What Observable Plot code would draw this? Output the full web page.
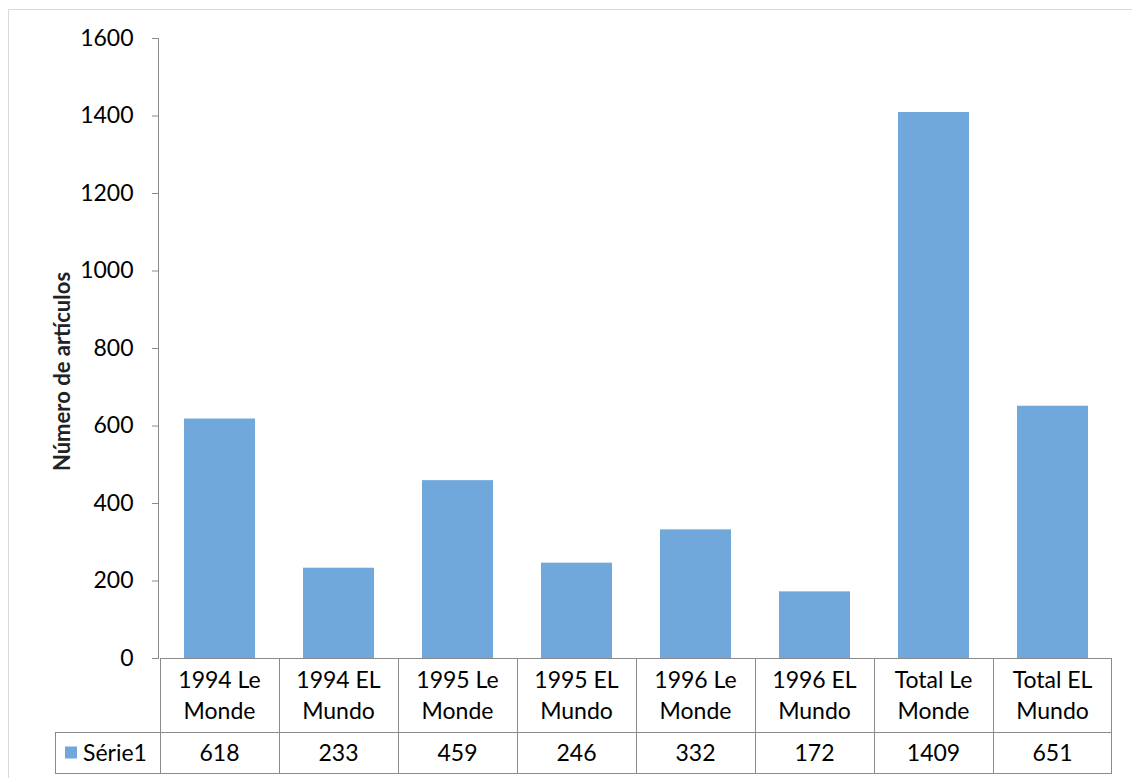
<!DOCTYPE html>
<html>
<head>
<meta charset="utf-8">
<script src="https://cdn.jsdelivr.net/npm/d3@7"></script>
<script src="https://cdn.jsdelivr.net/npm/@observablehq/plot@0.6"></script>
<style>
  html, body { margin: 0; padding: 0; background: #fff; }
  #chart { position: relative; width: 1132px; height: 778px; overflow: hidden; }
</style>
</head>
<body>
<div id="chart"></div>
<script>
const categories = ["1994 Le Monde", "1994 EL Mundo", "1995 Le Monde", "1995 EL Mundo", "1996 Le Monde", "1996 EL Mundo", "Total Le Monde", "Total EL Mundo"];
const headerLines = [["1994 Le", "Monde"], ["1994 EL", "Mundo"], ["1995 Le", "Monde"], ["1995 EL", "Mundo"], ["1996 Le", "Monde"], ["1996 EL", "Mundo"], ["Total Le", "Monde"], ["Total EL", "Mundo"]];
const values = [618, 233, 459, 246, 332, 172, 1409, 651];
const yTicks = [0, 200, 400, 600, 800, 1000, 1200, 1400, 1600];
const seriesName = "Série1";
const yLabel = "Número de artículos";

const barColor = "#70a8dc";
const gridColor = "#8a8a8a";
const data = categories.map((c, i) => ({cat: c, value: values[i], lines: headerLines[i]}));

const chart = Plot.plot({
  width: 1132,
  height: 778,
  marginLeft: 158,
  marginRight: 18,
  marginTop: 38,
  marginBottom: 120,
  style: {fontFamily: "Lato, 'Open Sans', sans-serif", fontSize: "23px", color: "#000", background: "#fff"},
  x: {domain: categories, padding: 0, axis: null},
  y: {domain: [0, 1600], ticks: yTicks},
  marks: [
    Plot.barY(data, {x: "cat", y: "value", fill: barColor, insetLeft: 24, insetRight: 24}),
    Plot.frame({anchor: "left", stroke: gridColor}),
    Plot.axisY({ticks: yTicks, tickFormat: d => String(d), tickSize: 6, tickPadding: 19, stroke: gridColor, fill: "#000", fontSize: 23, label: null}),
    Plot.text([yLabel], {frameAnchor: "left", textAnchor: "middle", rotate: -90, dx: -96, dy: 23, fontWeight: "bold", fontSize: 22, fill: "#222"})
  ]
});

document.getElementById("chart").appendChild(chart);

// Data table beneath the plot, aligned to Plot's own scales
const xs = chart.scale("x");
const ys = chart.scale("y");
const svg = d3.select(chart);
const step = xs.step;
const y0 = ys.apply(0);
const row1 = 74, row2 = 41;
const left = xs.apply(categories[0]);
const right = xs.apply(categories[categories.length - 1]) + step;
const legendLeft = left - 105;
const g = svg.append("g").attr("fill", "none").attr("stroke", gridColor).attr("stroke-width", 1);

// outer chart-area border
g.append("path").attr("stroke", "#d9d9d9").attr("d", `M8.5,778 V9.5 H1132`);

// horizontal lines
g.append("line").attr("x1", left).attr("x2", right).attr("y1", y0 + 0.5).attr("y2", y0 + 0.5);
g.append("line").attr("x1", legendLeft).attr("x2", right).attr("y1", y0 + row1 + 0.5).attr("y2", y0 + row1 + 0.5);
g.append("line").attr("x1", legendLeft).attr("x2", right).attr("y1", y0 + row1 + row2 + 0.5).attr("y2", y0 + row1 + row2 + 0.5);
// vertical lines
categories.forEach((c, i) => {
  const x = Math.round(xs.apply(c)) + 0.5;
  g.append("line").attr("x1", x).attr("x2", x).attr("y1", y0).attr("y2", y0 + row1 + row2);
});
g.append("line").attr("x1", Math.round(right) - 0.5).attr("x2", Math.round(right) - 0.5).attr("y1", y0).attr("y2", y0 + row1 + row2);
g.append("line").attr("x1", legendLeft + 0.5).attr("x2", legendLeft + 0.5).attr("y1", y0 + row1).attr("y2", y0 + row1 + row2);

const t = svg.append("g").attr("fill", "#000").attr("font-size", 23).attr("text-anchor", "middle");
data.forEach(d => {
  const cx = xs.apply(d.cat) + step / 2;
  d.lines.forEach((ln, j) => {
    t.append("text").attr("x", cx).attr("y", y0 + 22 + j * 31).attr("dy", "0.35em").text(ln);
  });
  t.append("text").attr("x", cx).attr("y", y0 + row1 + row2 / 2).attr("dy", "0.35em").text(d.value);
});
// legend key
const lg = svg.append("g");
lg.append("rect").attr("x", legendLeft + 10).attr("y", y0 + row1 + row2 / 2 - 6).attr("width", 12).attr("height", 12).attr("fill", barColor);
lg.append("text").attr("x", legendLeft + 28).attr("y", y0 + row1 + row2 / 2).attr("dy", "0.35em")
  .attr("text-anchor", "start").attr("font-size", 23).attr("fill", "#000").text(seriesName);
</script>
</body>
</html>
